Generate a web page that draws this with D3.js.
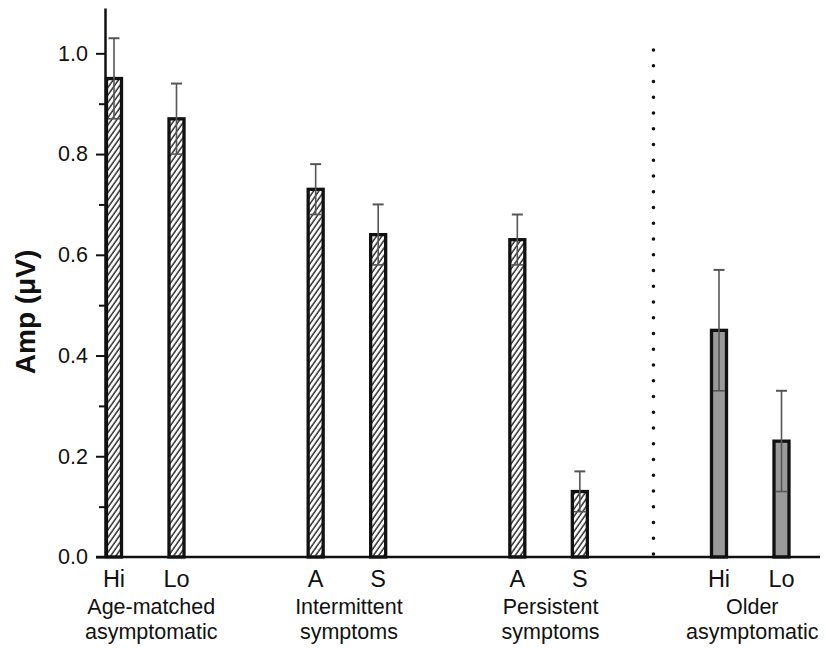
<!DOCTYPE html>
<html>
<head>
<meta charset="utf-8">
<script src="https://cdn.jsdelivr.net/npm/d3@7"></script>
<style>
  body { margin: 0; background: #fff; }
  text { font-family: "Liberation Sans", Arial, sans-serif; fill: #111; }
</style>
</head>
<body>
<div id="chart"></div>
<script>
// chart values
const groups = [["Age-matched", "asymptomatic"], ["Intermittent", "symptoms"], ["Persistent", "symptoms"], ["Older", "asymptomatic"]];
const groupHatched = [true, true, true, false];
const categories = ["Hi", "Lo", "A", "S", "A", "S", "Hi", "Lo"];
const groupOf = [0, 0, 1, 1, 2, 2, 3, 3];
const means = [0.95, 0.87, 0.73, 0.64, 0.63, 0.13, 0.45, 0.23];
const errors = [0.08, 0.07, 0.05, 0.06, 0.05, 0.04, 0.12, 0.10];
const yTicks = [0, 0.2, 0.4, 0.6, 0.8, 1.0];
const yMinorTicks = [0.1, 0.3, 0.5, 0.7, 0.9];
const yTitle = "Amp (\u03bcV)";

const data = categories.map((c, i) => ({ cat: c, group: groupOf[i], pos: i % 2, mean: means[i], err: errors[i] }));

const width = 826, height = 648;
const axisX = 105, axisBottom = 557, axisTop = 8, axisRight = 820;
const barW = 15;

const svg = d3.select("#chart").append("svg")
    .attr("width", width)
    .attr("height", height);

svg.append("rect").attr("width", width).attr("height", height).attr("fill", "#fff");

const defs = svg.append("defs");
defs.append("pattern")
    .attr("id", "hatch")
    .attr("patternUnits", "userSpaceOnUse")
    .attr("width", 4.3)
    .attr("height", 10)
    .attr("patternTransform", "rotate(35)")
  .call(p => {
      p.append("rect").attr("width", 4.3).attr("height", 10).attr("fill", "#fff");
      p.append("line").attr("x1", 1).attr("x2", 1).attr("y1", 0).attr("y2", 10)
        .attr("stroke", "#222").attr("stroke-width", 1.4);
  });

const y = d3.scaleLinear().domain([0, 1.09]).range([axisBottom, axisTop]);
const gx = d3.scaleLinear().domain([0, 3]).range([145.25, 750.25]);
const xc = d => gx(d.group) + (d.pos === 0 ? -31.25 : 31.25);

// dotted separator
const sepX = gx(2.52);
svg.append("line")
    .attr("x1", sepX).attr("x2", sepX)
    .attr("y1", y(0) - 3).attr("y2", y(1.01))
    .attr("stroke", "#111")
    .attr("stroke-width", 3.6)
    .attr("stroke-linecap", "round")
    .attr("stroke-dasharray", "0 15.75");

// bars
svg.append("g").selectAll("rect")
  .data(data)
  .join("rect")
    .attr("x", d => xc(d) - barW / 2)
    .attr("y", d => y(d.mean))
    .attr("width", barW)
    .attr("height", d => y(0) - y(d.mean))
    .attr("fill", d => groupHatched[d.group] ? "url(#hatch)" : "#9a9a9a")
    .attr("stroke", "#111")
    .attr("stroke-width", 3.3);

// error bars
const eb = svg.append("g").attr("stroke", "#555").attr("stroke-width", 1.6);
data.forEach(d => {
    const cx = xc(d);
    eb.append("line").attr("x1", cx).attr("x2", cx)
      .attr("y1", y(d.mean - d.err)).attr("y2", y(d.mean + d.err));
    eb.append("line").attr("x1", cx - 5.5).attr("x2", cx + 5.5)
      .attr("y1", y(d.mean + d.err)).attr("y2", y(d.mean + d.err))
      .attr("stroke-width", 2);
    eb.append("line").attr("x1", cx - barW / 2 + 1.5).attr("x2", cx + barW / 2 - 1.5)
      .attr("y1", y(d.mean - d.err)).attr("y2", y(d.mean - d.err));
});

// y axis
const yAxis = svg.append("g")
    .attr("transform", `translate(${axisX},0)`)
    .call(d3.axisLeft(y).tickValues(yTicks).tickFormat(d3.format(".1f")).tickSize(9).tickSizeOuter(0).tickPadding(8));
yAxis.select(".domain").attr("stroke", "#111").attr("stroke-width", 2.5);
yAxis.selectAll(".tick line").attr("stroke", "#111").attr("stroke-width", 2);
yAxis.selectAll(".tick text").attr("font-size", 21.5).attr("fill", "#111")
    .attr("font-family", "'Liberation Sans', Arial, sans-serif");

const yMinor = svg.append("g")
    .attr("transform", `translate(${axisX},0)`)
    .call(d3.axisLeft(y).tickValues(yMinorTicks).tickFormat("").tickSize(6).tickSizeOuter(0));
yMinor.select(".domain").remove();
yMinor.selectAll(".tick line").attr("stroke", "#111").attr("stroke-width", 2);

// x axis line
svg.append("line")
    .attr("x1", axisX - 9).attr("x2", axisRight)
    .attr("y1", y(0)).attr("y2", y(0))
    .attr("stroke", "#111").attr("stroke-width", 2.5);

// category labels
svg.append("g").selectAll("text")
  .data(data)
  .join("text")
    .attr("x", d => xc(d))
    .attr("y", 587)
    .attr("text-anchor", "middle")
    .attr("font-size", 23.5)
    .text(d => d.cat);

// group labels
const gl = svg.append("g").selectAll("text")
  .data(groups)
  .join("text")
    .attr("text-anchor", "middle")
    .attr("font-size", 21.5);
gl.selectAll("tspan")
  .data((g, i) => g.map(t => ({ t, i })))
  .join("tspan")
    .attr("x", d => gx(d.i) + (d.i === 0 ? 6 : 2))
    .attr("y", (d, j) => 614 + j * 24.5)
    .text(d => d.t);

// y title
svg.append("text")
    .attr("transform", "translate(35,312) rotate(-90)")
    .attr("text-anchor", "middle")
    .attr("font-size", 28)
    .attr("font-weight", "bold")
    .text(yTitle);
</script>
</body>
</html>
